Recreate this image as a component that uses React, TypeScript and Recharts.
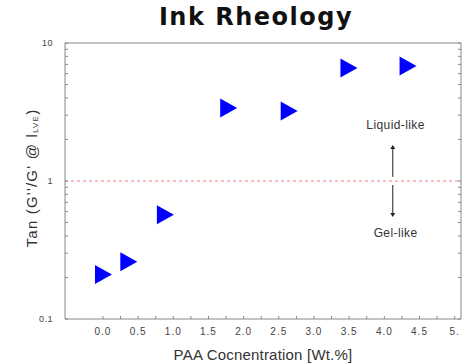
import React from 'react';
import { ScatterChart, Scatter, XAxis, YAxis, ReferenceLine, ReferenceDot, Label } from 'recharts';

const concentration = [0, 0.36, 0.88, 1.78, 2.64, 3.49, 4.33];
const tanDelta = [0.21, 0.26, 0.57, 3.38, 3.21, 6.6, 6.8];
const xTicks = [0, 0.25, 0.5, 0.75, 1, 1.25, 1.5, 1.75, 2, 2.25, 2.5, 2.75, 3, 3.25, 3.5, 3.75, 4, 4.25, 4.5, 4.75, 5];
const xLabeled = [0, 0.5, 1, 1.5, 2, 2.5, 3, 3.5, 4, 4.5, 5];
const yTicks = [0.1, 0.2, 0.3, 0.4, 0.5, 0.6, 0.7, 0.8, 0.9, 1, 2, 3, 4, 5, 6, 7, 8, 9, 10];
const yLabeled: Record<string, string> = { '0.1': '0.1', '1': '1', '10': '10' };

const data = concentration.map((x, i) => ({ x, y: tanDelta[i] }));

const Tri = (props: any) => {
  const { cx, cy } = props;
  if (cx == null || cy == null) return null;
  return <polygon points={`${cx - 8},${cy - 9.5} ${cx + 9},${cy} ${cx - 8},${cy + 9.5}`} fill="#0000ff" />;
};

const ArrowHead = (dir: 'up' | 'down') => (props: any) => {
  const { cx, cy } = props;
  if (cx == null || cy == null) return null;
  const s = dir === 'up' ? -1 : 1;
  return <polygon points={`${cx - 2.5},${cy - s * 4} ${cx + 2.5},${cy - s * 4} ${cx},${cy}`} fill="#222" />;
};

const xFmt = (v: number) => {
  if (!xLabeled.includes(v)) return '';
  if (v === 5) return '5.';
  return v.toFixed(1);
};
const yFmt = (v: number) => yLabeled[String(Number(v.toPrecision(3)))] ?? '';

const font = "'Liberation Sans', Arial, sans-serif";

const YLabel = (props: any) => {
  const vb = props.viewBox || { x: 0, y: 42, width: 65, height: 277 };
  const cx = vb.x + 31;
  const cy = vb.y + vb.height / 2 - 3;
  return (
    <text
      x={cx}
      y={cy}
      transform={`rotate(-90, ${cx}, ${cy})`}
      textAnchor="middle"
      dominantBaseline="central"
      fontFamily={font}
      fontSize={15}
      letterSpacing={1.2}
      fill="#333"
    >
      <tspan>{"Tan   (G''/G' @ l"}</tspan>
      <tspan fontSize={8} dy={4}>LVE</tspan>
      <tspan dy={-4}>)</tspan>
    </text>
  );
};

const axisColor = '#888';
const tickStyle = { fontSize: 10, fill: '#444', fontFamily: font, letterSpacing: 1 };
const noteStyle = { fontSize: 12, fill: '#333', fontFamily: font, letterSpacing: 0.4 };

export default function App() {
  return (
    <div style={{ position: 'absolute', left: 0, top: 0, width: 466, height: 363, background: '#fff' }}>
      <div
        style={{
          position: 'absolute',
          left: 0,
          width: 512,
          top: 2,
          textAlign: 'center',
          fontFamily: "'DejaVu Sans', sans-serif",
          fontWeight: 'bold',
          fontSize: 24,
          letterSpacing: 1.5,
          color: '#111',
          lineHeight: '30px',
          zIndex: 2,
        }}
      >
        Ink Rheology
      </div>
      <ScatterChart width={466} height={363} margin={{ top: 42, right: 4, bottom: 0, left: 0 }}>
        <XAxis
          dataKey="x"
          type="number"
          domain={[-0.54, 5.09]}
          ticks={xTicks}
          tickFormatter={xFmt}
          height={44}
          allowDataOverflow
          stroke={axisColor}
          tickSize={-3}
          tickMargin={12}
          tick={tickStyle}
          interval={0}
        >
          <Label
            value="PAA Cocnentration [Wt.%]"
            position="insideBottom"
            offset={3}
            style={{ fontSize: 15, fill: '#333', fontFamily: font, letterSpacing: 0.2 }}
          />
        </XAxis>
        <XAxis
          xAxisId="top"
          orientation="top"
          type="number"
          domain={[-0.54, 5.09]}
          ticks={xTicks}
          tickFormatter={() => ''}
          height={1}
          allowDataOverflow
          stroke={axisColor}
          tickSize={-3}
          interval={0}
        />
        <YAxis
          dataKey="y"
          type="number"
          scale="log"
          domain={[0.1, 10]}
          ticks={yTicks}
          tickFormatter={yFmt}
          width={65}
          allowDataOverflow
          stroke={axisColor}
          tickSize={-3}
          tickMargin={15}
          tick={{ ...tickStyle, fontSize: 9, letterSpacing: 0.5 }}
          interval={0}
        >
          <Label content={<YLabel />} position="left" />
        </YAxis>
        <YAxis
          yAxisId="right"
          orientation="right"
          type="number"
          scale="log"
          domain={[0.1, 10]}
          ticks={yTicks}
          tickFormatter={() => ''}
          width={1}
          allowDataOverflow
          stroke={axisColor}
          tickSize={-3}
          interval={0}
        />
        <ReferenceLine y={1} stroke="#f08080" strokeDasharray="3 3" strokeWidth={1} />
        <ReferenceLine segment={[{ x: 4.12, y: 1.07 }, { x: 4.12, y: 1.78 }]} stroke="#222" strokeWidth={1} />
        <ReferenceLine segment={[{ x: 4.12, y: 0.935 }, { x: 4.12, y: 0.56 }]} stroke="#222" strokeWidth={1} />
        <ReferenceDot x={4.12} y={1.82} r={0} shape={ArrowHead('up')} />
        <ReferenceDot x={4.12} y={0.548} r={0} shape={ArrowHead('down')} />
        <ReferenceDot x={4.16} y={2.55} r={0} fill="none" stroke="none">
          <Label value="Liquid-like" position="center" style={noteStyle} />
        </ReferenceDot>
        <ReferenceDot x={4.16} y={0.42} r={0} fill="none" stroke="none">
          <Label value="Gel-like" position="center" style={noteStyle} />
        </ReferenceDot>
        <Scatter data={data} shape={<Tri />} isAnimationActive={false} />
      </ScatterChart>
    </div>
  );
}
